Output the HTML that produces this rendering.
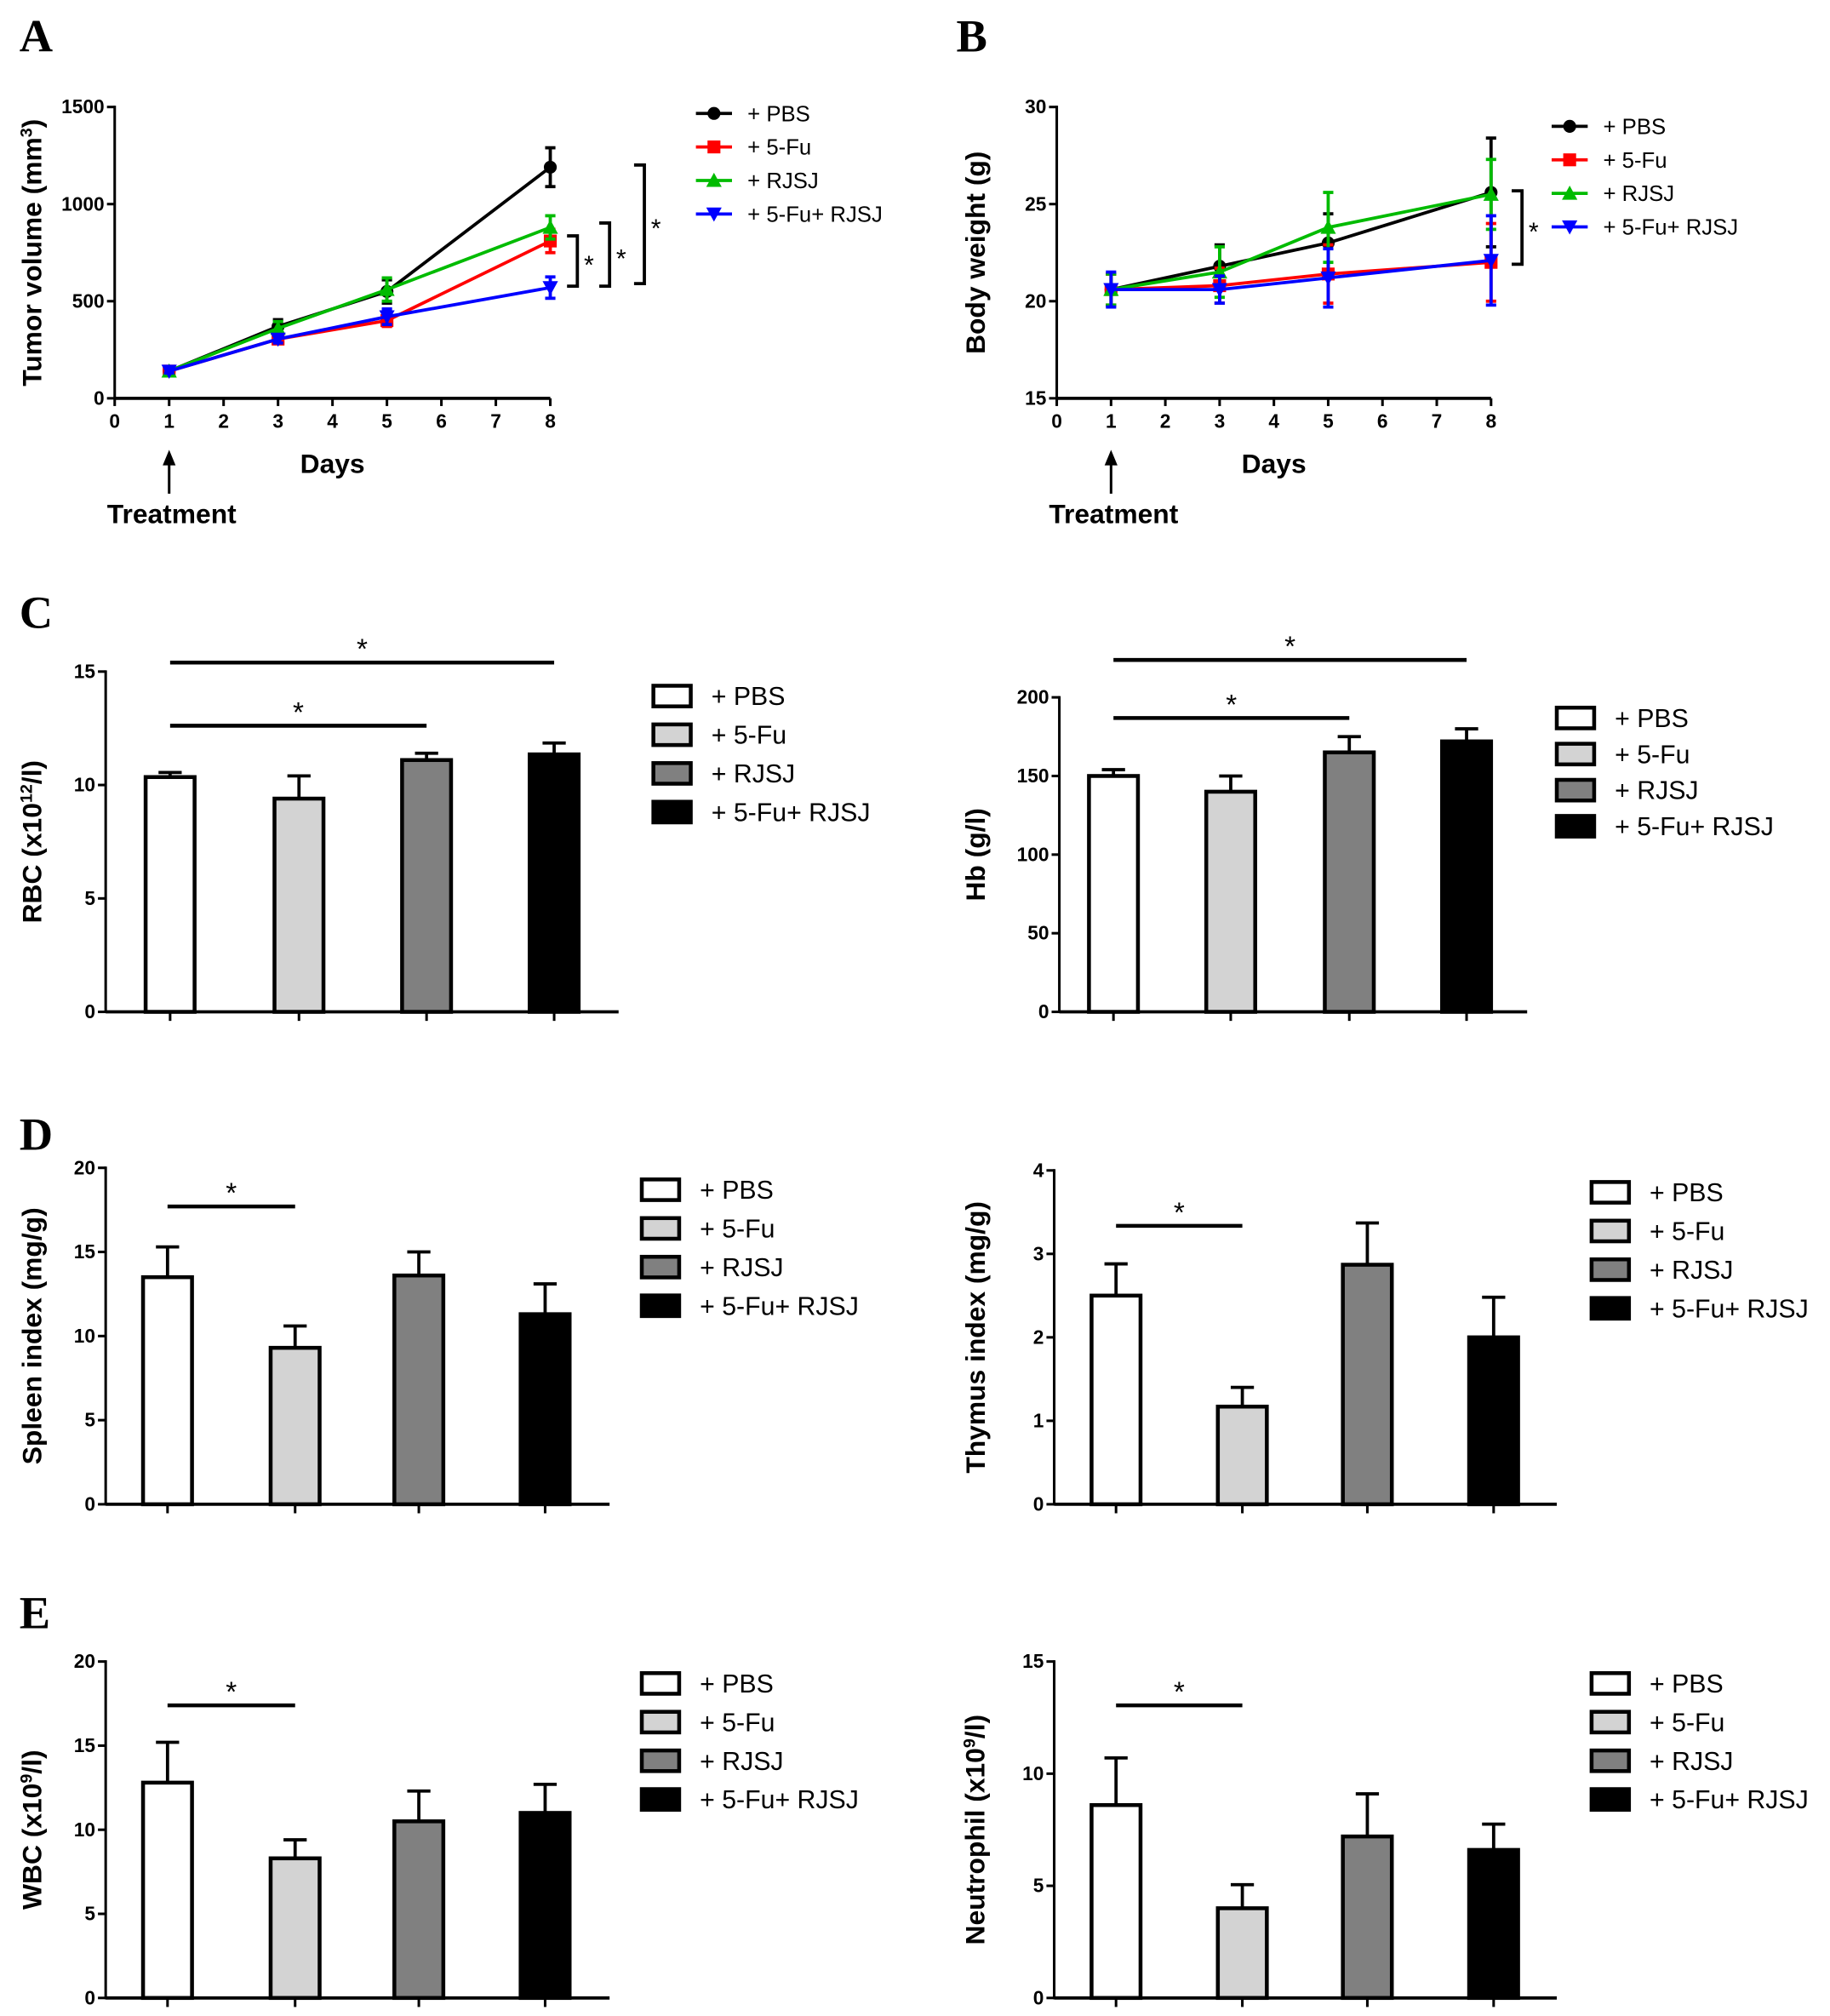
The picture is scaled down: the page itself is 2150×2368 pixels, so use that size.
<!DOCTYPE html>
<html><head><meta charset="utf-8"><style>
html,body{margin:0;padding:0;background:#fff;}
svg{display:block;}
text{font-family:"Liberation Sans",Arial,sans-serif;}
</style></head><body>
<svg id="fig" width="2150" height="2368" viewBox="0 0 1420 1564" preserveAspectRatio="none" xmlns="http://www.w3.org/2000/svg"></svg>
<script>
// ---------- data ----------
const groups = ["+ PBS","+ 5-Fu","+ RJSJ","+ 5-Fu+ RJSJ"];
const days = [1,3,5,8];
const xTicksDays = [0,1,2,3,4,5,6,7,8];
// Panel A tumor volume
const tumorPBS = [140,370,550,1190];
const tumorPBSerr = [10,35,60,100];
const tumor5Fu = [140,305,400,810];
const tumor5FuErr = [10,20,30,60];
const tumorRJSJ = [140,360,560,880];
const tumorRJSJerr = [10,35,60,60];
const tumorCombo = [140,305,420,570];
const tumorComboErr = [10,20,40,55];
const tumorTicks = [0,500,1000,1500];
// Panel B body weight
const bwPBS = [20.6,21.8,23.0,25.6];
const bwPBSerr = [0.8,1.1,1.5,2.8];
const bw5Fu = [20.6,20.8,21.4,22.0];
const bw5FuErr = [0.8,0.9,1.5,2.0];
const bwRJSJ = [20.6,21.5,23.8,25.5];
const bwRJSJerr = [0.8,1.3,1.8,1.8];
const bwCombo = [20.6,20.6,21.2,22.1];
const bwComboErr = [0.9,0.7,1.5,2.3];
const bwTicks = [15,20,25,30];
// Bar panels
const rbc = [10.35,9.4,11.1,11.35];
const rbcErr = [0.2,1.0,0.3,0.5];
const rbcTicks = [0,5,10,15];
const hb = [150,140,165,172];
const hbErr = [4,10,10,8];
const hbTicks = [0,50,100,150,200];
const spleen = [13.5,9.3,13.6,11.3];
const spleenErr = [1.8,1.3,1.4,1.8];
const spleenTicks = [0,5,10,15,20];
const thymus = [2.5,1.17,2.87,2.0];
const thymusErr = [0.38,0.23,0.5,0.48];
const thymusTicks = [0,1,2,3,4];
const wbc = [12.8,8.3,10.5,11.0];
const wbcErr = [2.4,1.1,1.8,1.7];
const wbcTicks = [0,5,10,15,20];
const neut = [8.6,4.0,7.2,6.6];
const neutErr = [2.1,1.05,1.9,1.15];
const neutTicks = [0,5,10,15];

// ---------- helpers ----------
const NS="http://www.w3.org/2000/svg";
const svg=document.getElementById('fig');
function el(tag,attrs,parent,txt){const e=document.createElementNS(NS,tag);for(const k in attrs)e.setAttribute(k,attrs[k]);if(txt!==undefined)e.textContent=txt;(parent||svg).appendChild(e);return e;}
function grp(name){const g=el('g',{});


return g;}
function lin(a,b,c,d){return v=>c+(v-a)*(d-c)/(b-a);}
const LINECOL=["#000","#ff0000","#00bb00","#0000ff"];
const BARFILL=["#fff","#d3d3d3","#808080","#000"];

function panelLetter(t,x,y){const e=el('text',{x:x,y:y,'font-size':36,'font-weight':'bold',style:'font-family:"Liberation Serif",serif'},svg,t);

}

function yAxis(g,x,y0,y1,ticks,sy,title,tx,ty){
 el('line',{x1:x,y1:y0+1,x2:x,y2:y1-1,stroke:'#000','stroke-width':2},g);
 ticks.forEach(t=>{const y=sy(t);el('line',{x1:x-6,y1:y,x2:x,y2:y,stroke:'#000','stroke-width':2},g);
  el('text',{x:x-8,y:y+5,'text-anchor':'end','font-size':15,'font-weight':'bold'},g,String(t));});
 const tt=el('text',{x:tx,y:ty,'text-anchor':'middle','font-size':21,'font-weight':'bold',transform:`rotate(-90 ${tx} ${ty})`},g);
 tt.innerHTML=title;
 
 
}

function linePanel(name,ax,sets,errs,ticks,yTitle,ytx,legX,legY0,brackets){
 const g=grp(name);
 const sx=lin(0,8,ax.x0,ax.x1), sy=lin(ticks[0],ticks[ticks.length-1],ax.y0,ax.y1);
 yAxis(g,ax.x0,ax.y0,ax.y1,ticks,sy,yTitle,ytx,(ax.y0+ax.y1)/2);
 el('line',{x1:ax.x0,y1:ax.y0,x2:ax.x1,y2:ax.y0,stroke:'#000','stroke-width':2.5},g);
 xTicksDays.forEach(d=>{const x=sx(d);el('line',{x1:x,y1:ax.y0,x2:x,y2:ax.y0+6,stroke:'#000','stroke-width':2},g);
  el('text',{x:x,y:ax.y0+23,'text-anchor':'middle','font-size':15,'font-weight':'bold'},g,String(d));});
 el('text',{x:(ax.x0+ax.x1)/2,y:ax.y0+58,'text-anchor':'middle','font-size':21,'font-weight':'bold'},g,'Days');
 const ax1=sx(1);
 el('line',{x1:ax1,y1:ax.y0+74,x2:ax1,y2:ax.y0+48,stroke:'#000','stroke-width':2},g);
 el('polygon',{points:`${ax1-5},${ax.y0+52} ${ax1+5},${ax.y0+52} ${ax1},${ax.y0+40}`,fill:'#000'},g);
 el('text',{x:ax1+2,y:ax.y0+97,'text-anchor':'middle','font-size':21,'font-weight':'bold'},g,'Treatment');
 sets.forEach((s,i)=>{
  const sg=el('g',{},g);
  
  
  const pts=s.map((v,j)=>sx(days[j])+','+sy(v)).join(' ');
  el('polyline',{points:pts,fill:'none',stroke:LINECOL[i],'stroke-width':2.5},sg);
  s.forEach((v,j)=>{const x=sx(days[j]),e=errs[i][j];
   el('line',{x1:x,y1:sy(v-e),x2:x,y2:sy(v+e),stroke:LINECOL[i],'stroke-width':2.5},sg);
   el('line',{x1:x-4,y1:sy(v-e),x2:x+4,y2:sy(v-e),stroke:LINECOL[i],'stroke-width':2.5},sg);
   el('line',{x1:x-4,y1:sy(v+e),x2:x+4,y2:sy(v+e),stroke:LINECOL[i],'stroke-width':2.5},sg);
   marker(sg,i,x,sy(v));});
 });
 groups.forEach((t,i)=>{const y=legY0+i*26;
  const lg=el('g',{},g);
  
  
  el('line',{x1:legX,y1:y,x2:legX+28,y2:y,stroke:LINECOL[i],'stroke-width':2.5},lg);
  marker(lg,i,legX+14,y);
  el('text',{x:legX+40,y:y+6,'font-size':17},lg,t);});
 brackets.forEach(b=>{
  el('polyline',{points:`${b.x},${b.y1} ${b.x+8},${b.y1} ${b.x+8},${b.y2} ${b.x},${b.y2}`,fill:'none',stroke:'#000','stroke-width':2.5},g);
  el('text',{x:b.x+17,y:(b.y1+b.y2)/2+10,'text-anchor':'middle','font-size':20},g,'*');});
}
function marker(g,i,x,y){const c=LINECOL[i];
 if(i===0)el('circle',{cx:x,cy:y,r:5,fill:c},g);
 else if(i===1)el('rect',{x:x-5,y:y-5,width:10,height:10,fill:c},g);
 else if(i===2)el('polygon',{points:`${x-6},${y+5} ${x+6},${y+5} ${x},${y-6}`,fill:c},g);
 else el('polygon',{points:`${x-6},${y-5} ${x+6},${y-5} ${x},${y+6}`,fill:c},g);}

function barPanel(name,ax,centers,vals,errs,ticks,yTitle,ytx,legX,legY0,legStep,sigs){
 const g=grp(name);
 const sy=lin(ticks[0],ticks[ticks.length-1],ax.y0,ax.y1);
 yAxis(g,ax.x0,ax.y0,ax.y1,ticks,sy,yTitle,ytx,(ax.y0+ax.y1)/2);
 el('line',{x1:ax.x0,y1:ax.y0,x2:ax.x1,y2:ax.y0,stroke:'#000','stroke-width':2.5},g);
 vals.forEach((v,i)=>{const cx=centers[i],w=38;
  el('line',{x1:cx,y1:ax.y0,x2:cx,y2:ax.y0+7,stroke:'#000','stroke-width':2},g);
  el('line',{x1:cx,y1:sy(v),x2:cx,y2:sy(v+errs[i]),stroke:'#000','stroke-width':2.5},g);
  el('line',{x1:cx-9,y1:sy(v+errs[i]),x2:cx+9,y2:sy(v+errs[i]),stroke:'#000','stroke-width':2.5},g);
  const r=el('rect',{x:cx-w/2,y:sy(v),width:w,height:ax.y0-sy(v),fill:BARFILL[i],stroke:'#000','stroke-width':3},g);
  
  });
 sigs.forEach(s=>{el('line',{x1:centers[s.a],y1:s.y,x2:centers[s.b],y2:s.y,stroke:'#000','stroke-width':3},g);
  el('text',{x:(centers[s.a]+centers[s.b])/2,y:s.y-3,'text-anchor':'middle','font-size':22},g,'*');});
 groups.forEach((t,i)=>{const y=legY0+i*legStep;
  const lg=el('g',{},g);
  
  
  el('rect',{x:legX,y:y-8,width:29,height:16,fill:BARFILL[i],stroke:'#000','stroke-width':3},lg);
  el('text',{x:legX+45,y:y+7,'font-size':20},lg,t);});
}

// ---------- build ----------
panelLetter('A',15,40);panelLetter('B',742,40);panelLetter('C',15,487);
panelLetter('D',15,892);panelLetter('E',15,1263);

linePanel('panel-a-tumor-volume',{x0:89,x1:427,y0:309,y1:83},
 [tumorPBS,tumor5Fu,tumorRJSJ,tumorCombo],[tumorPBSerr,tumor5FuErr,tumorRJSJerr,tumorComboErr],
 tumorTicks,'Tumor volume (mm<tspan baseline-shift="super" font-size="13">3</tspan>)',32,540,88,
 [{x:440,y1:183,y2:222},{x:465,y1:173,y2:222},{x:492,y1:128,y2:220}]);
linePanel('panel-b-body-weight',{x0:820,x1:1157,y0:309,y1:83},
 [bwPBS,bw5Fu,bwRJSJ,bwCombo],[bwPBSerr,bw5FuErr,bwRJSJerr,bwComboErr],
 bwTicks,'Body weight (g)',764,1204,98,[{x:1173,y1:148,y2:205}]);

barPanel('panel-c-rbc',{x0:82,x1:480,y0:785,y1:521},[132,232,331,430],rbc,rbcErr,rbcTicks,
 'RBC (x10<tspan baseline-shift="super" font-size="13">12</tspan>/l)',32,507,540,30,
 [{a:0,b:2,y:563},{a:0,b:3,y:514}]);
barPanel('panel-c-hb',{x0:822,x1:1185,y0:785,y1:541},[864,955,1047,1138],hb,hbErr,hbTicks,
 'Hb (g/l)',764,1208,557,28,[{a:0,b:2,y:557},{a:0,b:3,y:512}]);
barPanel('panel-d-spleen',{x0:82,x1:473,y0:1167,y1:906},[130,229,325,423],spleen,spleenErr,spleenTicks,
 'Spleen index (mg/g)',32,498,923,30,[{a:0,b:1,y:936}]);
barPanel('panel-d-thymus',{x0:818,x1:1208,y0:1167,y1:908},[866,964,1061,1159],thymus,thymusErr,thymusTicks,
 'Thymus index (mg/g)',764,1235,925,30,[{a:0,b:1,y:951}]);
barPanel('panel-e-wbc',{x0:82,x1:473,y0:1550,y1:1289},[130,229,325,423],wbc,wbcErr,wbcTicks,
 'WBC (x10<tspan baseline-shift="super" font-size="13">9</tspan>/l)',32,498,1306,30,[{a:0,b:1,y:1323}]);
barPanel('panel-e-neutrophil',{x0:818,x1:1208,y0:1550,y1:1289},[866,964,1061,1159],neut,neutErr,neutTicks,
 'Neutrophil (x10<tspan baseline-shift="super" font-size="13">9</tspan>/l)',764,1235,1306,30,[{a:0,b:1,y:1323}]);
</script>
</body></html>
